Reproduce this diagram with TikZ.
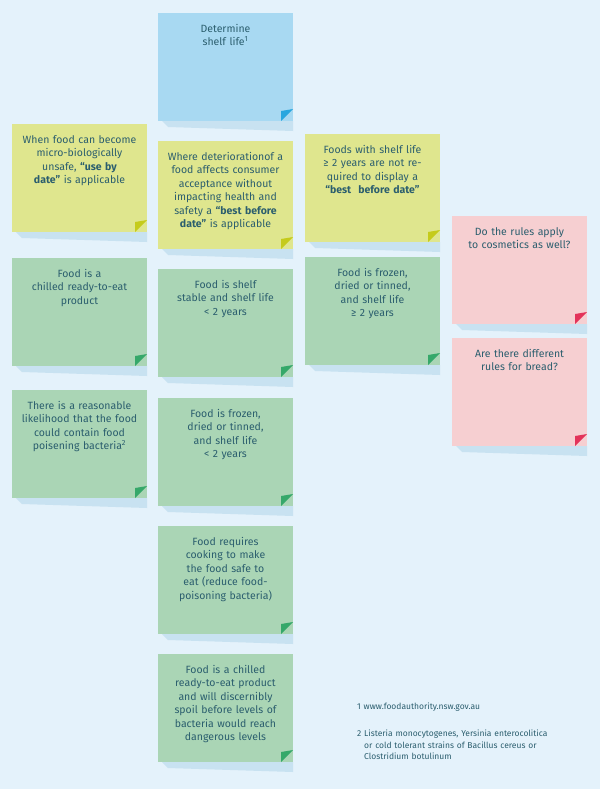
\documentclass[tikz,border=0pt]{standalone}
\usepackage{fontspec}
\setmainfont{Fira Sans}
\usepackage{tikz}
\usetikzlibrary{positioning}
\definecolor{bgblue}{HTML}{E4F2FB}
\definecolor{shadowblue}{HTML}{C8E2F1}
\definecolor{inkteal}{HTML}{2B5E6E}
\definecolor{noteblue}{HTML}{A8D9F2}
\definecolor{cornblue}{HTML}{2AA7DF}
\definecolor{noteyellow}{HTML}{DFE68E}
\definecolor{cornyellow}{HTML}{C5CB1B}
\definecolor{notegreen}{HTML}{AAD5B5}
\definecolor{corngreen}{HTML}{36A86A}
\definecolor{notepink}{HTML}{F6CFD1}
\definecolor{cornpink}{HTML}{E3335A}
\tikzset{
  notetext/.style={anchor=north,text width=124pt,align=center,inner sep=0pt,
    text=inkteal,font=\fontsize{10.5}{13.5}\selectfont},
  foottext/.style={anchor=north west,text width=240pt,align=left,inner sep=0pt,
    text=inkteal,font=\fontsize{8.5}{11.5}\selectfont}
}
% sticky note: name, left, top, fill, corner, text
\newcommand{\stickynote}[6]{%
  \fill[shadowblue] (#2+4,#3+108) -- (#2+135,#3+108) -- (#2+135,#3+118) -- (#2+10,#3+114) -- cycle;
  \fill[#4] (#2,#3) rectangle (#2+135,#3+108);
  \fill[#5] (#2+123,#3+108) -- (#2+135,#3+96) -- (#2+123,#3+98) -- cycle;
  \node[notetext] (#1) at (#2+67.5,#3+11) {#6};
}
\begin{document}
\begin{tikzpicture}[x=1pt,y=-1pt]
\fill[bgblue] (0,0) rectangle (600,789);
\useasboundingbox (0,0) rectangle (600,789);

%top of the chart
\stickynote{shelf}{158}{13}{noteblue}{cornblue}{Determine\\shelf life\textsuperscript{1}}

%what date applies
\stickynote{usedate}{12}{124}{noteyellow}{cornyellow}{When food can become micro-biologically unsafe, \textbf{“use by date”} is applicable}
\stickynote{bestdate}{158}{141}{noteyellow}{cornyellow}{Where deteriorationof a food affects consumer acceptance without impacting health and safety a \textbf{“best before date”} is applicable}
\stickynote{nodate}{305}{134}{noteyellow}{cornyellow}{Foods with shelf life ≥ 2 years are not required to display a \textbf{“best\ \ before date”}}

%questions
\stickynote{cosmetics}{452}{216}{notepink}{cornpink}{Do the rules apply\\to cosmetics as well?}
\stickynote{bread}{452}{338}{notepink}{cornpink}{Are there different\\rules for bread?}

%use by date cases
\stickynote{chilled}{12}{258}{notegreen}{corngreen}{Food is a\\chilled ready-to-eat\\product}
\stickynote{bacteria}{12}{390}{notegreen}{corngreen}{There is a reasonable likelihood that the food could contain food poisening bacteria\textsuperscript{2}}

%best before date cases
\stickynote{stable}{158}{269}{notegreen}{corngreen}{Food is shelf\\stable and shelf life\\< 2 years}
\stickynote{frozenshort}{158}{398}{notegreen}{corngreen}{Food is frozen,\\dried or tinned,\\and shelf life\\< 2 years}
\stickynote{cooking}{158}{526}{notegreen}{corngreen}{Food requires\\cooking to make\\the food safe to\\eat (reduce food-\\poisoning bacteria)}
\stickynote{spoil}{158}{654}{notegreen}{corngreen}{Food is a chilled\\ready-to-eat product\\and will discernibly\\spoil before levels of\\bacteria would reach\\dangerous levels}

%no date case
\stickynote{frozenlong}{305}{257}{notegreen}{corngreen}{Food is frozen,\\dried or tinned,\\and shelf life\\≥ 2 years}

%footnotes
\node[foottext] (foot1) at (357,703) {1 www.foodauthority.nsw.gov.au};
\node[foottext] (foot2) at (357,730) {2 Listeria monocytogenes, Yersinia enterocolitica\\\hspace*{7pt}or cold tolerant strains of Bacillus cereus or\\\hspace*{7pt}Clostridium botulinum};
\end{tikzpicture}
\end{document}
